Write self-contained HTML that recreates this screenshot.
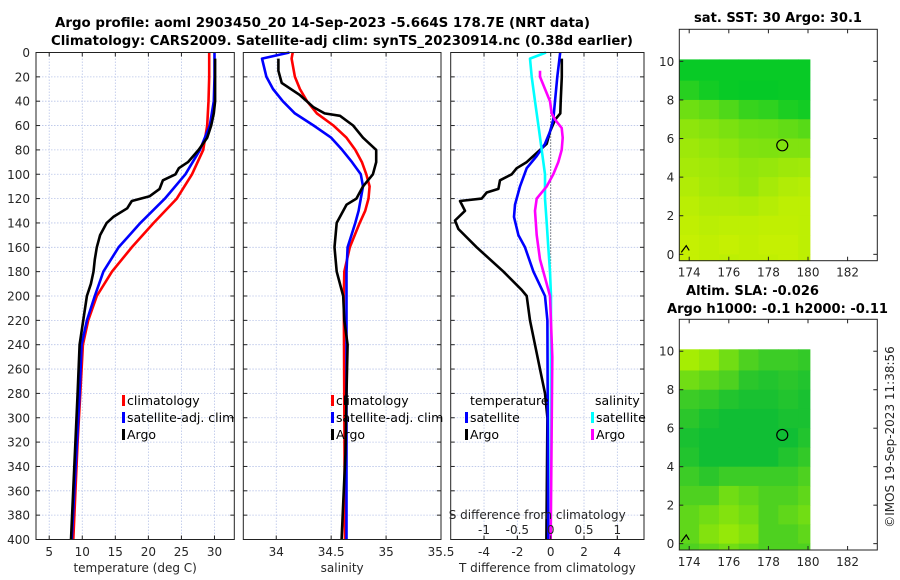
<!DOCTYPE html>
<html><head><meta charset="utf-8">
<style>
body{margin:0;background:#fff;}
svg{display:block;font-family:"DejaVu Sans","Liberation Sans",sans-serif;}
.tk{font-size:12px;fill:#262626;}
.tt{font-size:13px;font-weight:bold;fill:#000;}
.lg{font-size:12.5px;fill:#000;}
</style></head>
<body>
<svg id="chart" width="900" height="580" viewBox="0 0 900 580" xmlns="http://www.w3.org/2000/svg">
<text class="tt" x="55" y="27" textLength="535" lengthAdjust="spacingAndGlyphs">Argo profile: aoml 2903450_20 14-Sep-2023 -5.664S 178.7E (NRT data)</text>
<text class="tt" x="51" y="45" textLength="582" lengthAdjust="spacingAndGlyphs">Climatology: CARS2009. Satellite-adj clim: synTS_20230914.nc (0.38d earlier)</text>
<text class="tt" x="694" y="22" textLength="168" lengthAdjust="spacingAndGlyphs">sat. SST: 30 Argo: 30.1</text>
<text class="tt" x="686" y="295" textLength="133" lengthAdjust="spacingAndGlyphs">Altim. SLA: -0.026</text>
<text class="tt" x="667" y="313" textLength="221" lengthAdjust="spacingAndGlyphs">Argo h1000: -0.1 h2000: -0.11</text>
<text class="tk" transform="translate(894,437) rotate(-90)" text-anchor="middle">©IMOS 19-Sep-2023 11:38:56</text>
</svg>
<script>
// ---------- data ----------
const depthT = [0,20,40,60,80,100,120,140,160,180,200,220,240,280,320,400];
const tempClim = [29.2,29.2,29.1,28.9,28.3,26.6,24.3,20.8,17.5,14.5,12.2,10.9,10.1,9.7,9.3,8.65];
const tempSat  = [30.0,30.0,29.9,29.3,27.8,25.6,22.5,18.8,15.5,13.2,11.9,10.7,9.9,9.6,9.2,8.4];
const depthArgoT = [5,20,40,50,60,70,80,90,95,100,105,112,118,122,128,135,140,150,160,170,180,190,200,240,280,400];
const tempArgo = [30.1,30.1,30.1,29.9,29.5,28.9,27.6,26.0,24.6,24.1,22.2,21.7,20.2,17.5,16.8,14.7,13.7,12.7,12.2,11.9,11.7,11.3,10.7,9.6,9.3,8.3];

const depthS = [0,5,20,30,40,50,60,70,80,90,100,110,120,130,140,160,180,200,400];
const salClim = [34.15,34.14,34.17,34.215,34.28,34.37,34.52,34.64,34.72,34.78,34.82,34.85,34.84,34.81,34.76,34.67,34.62,34.615,34.625];
const salSat  = [34.12,33.87,33.91,33.97,34.06,34.17,34.34,34.50,34.60,34.69,34.77,34.79,34.77,34.75,34.72,34.65,34.64,34.64,34.64];
const depthArgoS = [5,15,25,35,45,50,52,60,70,80,90,100,110,120,125,140,160,180,200,220,240,280,330,400];
const salArgo = [34.02,34.02,34.05,34.215,34.34,34.44,34.58,34.70,34.79,34.91,34.91,34.88,34.79,34.73,34.64,34.55,34.53,34.55,34.61,34.62,34.65,34.64,34.63,34.595];

const depthDT = [5,20,40,50,55,65,75,80,85,90,95,100,105,112,115,120,122,130,138,145,160,180,195,200,220,240,260,280,300,400];
const dTArgo = [0.67,0.67,0.6,0.58,0.27,-0.04,-0.24,-0.64,-1.04,-1.44,-2.04,-2.34,-3.04,-3.14,-3.84,-4.14,-5.44,-5.14,-5.74,-5.54,-4.44,-2.84,-1.74,-1.44,-1.24,-0.94,-0.64,-0.34,-0.2,-0.26];
const depthDTs = [0,20,40,55,65,75,85,95,110,125,135,150,160,180,200,220,400];
const dTSat = [0.57,0.4,0.26,0.16,-0.04,-0.34,-0.84,-1.44,-1.84,-2.14,-2.2,-1.94,-1.54,-1.04,-0.34,-0.2,-0.15];
const depthDSs = [0,5,20,40,60,80,100,120,140,160,180,200,400];
const dSSat = [-0.07,-0.31,-0.285,-0.235,-0.185,-0.135,-0.085,-0.085,-0.06,-0.035,-0.01,0.005,0.0];
const depthDSa = [15,20,30,40,50,55,62,70,80,90,100,110,120,130,150,170,190,200,250,400];
const dSArgo = [-0.16,-0.16,-0.085,-0.01,0.015,0.065,0.165,0.18,0.165,0.115,0.04,-0.06,-0.21,-0.235,-0.21,-0.16,-0.06,-0.01,0.025,0.0];

const tTicks = [5,10,15,20,25,30];
const sTicks = [34,34.5,35,35.5];
const dTTicks = [-4,-2,0,2,4];
const dSTicks = [-1,-0.5,0,0.5,1];
const depthTicks = [0,20,40,60,80,100,120,140,160,180,200,220,240,260,280,300,320,340,360,380,400];
const lonTicks = [174,176,178,180,182];
const latTicks = [0,2,4,6,8,10];

// map grids: rows from lat 10.1 down to -0.33, cols 173.5..180.1 (1 deg)
const mapLatEdges = [10.1,9,8,7,6,5,4,3,2,1,0,-0.33];
const mapLonEdges = [173.5,174.5,175.5,176.5,177.5,178.5,179.5,180.1];
const sstGrid = [
 [29.05,29.05,29.05,29.05,29.05,29.05,29.05],
 [29.25,29.12,29.05,29.03,29.03,29.05,29.05],
 [29.7,29.62,29.5,29.35,29.3,29.18,29.12],
 [29.9,29.85,29.78,29.7,29.68,29.62,29.55],
 [30.0,29.95,29.9,29.82,29.8,29.82,29.82],
 [30.05,30.02,29.98,29.92,29.95,30.0,30.02],
 [30.12,30.05,30.02,29.95,30.05,30.12,30.15],
 [30.18,30.12,30.12,30.1,30.15,30.2,30.2],
 [30.22,30.18,30.2,30.2,30.22,30.22,30.2],
 [30.25,30.22,30.25,30.22,30.25,30.25,30.2],
 [30.25,30.22,30.2,30.22,30.22,30.25,30.2]
];
const slaGrid = [
 [0.03,0.02,0.0,-0.02,-0.03,-0.03,-0.035],
 [0.0,-0.01,-0.02,-0.04,-0.045,-0.04,-0.045],
 [-0.03,-0.035,-0.045,-0.05,-0.05,-0.045,-0.05],
 [-0.04,-0.05,-0.055,-0.055,-0.055,-0.05,-0.05],
 [-0.05,-0.06,-0.06,-0.06,-0.06,-0.055,-0.045],
 [-0.045,-0.06,-0.055,-0.06,-0.055,-0.045,-0.035],
 [-0.03,-0.04,-0.03,-0.03,-0.03,-0.03,-0.02],
 [-0.02,-0.02,0.0,-0.01,-0.02,-0.02,-0.01],
 [-0.01,0.0,0.01,0.0,-0.02,-0.01,0.0],
 [-0.01,0.01,0.02,0.01,-0.02,-0.02,-0.01],
 [-0.02,-0.01,0.0,-0.01,-0.02,-0.02,-0.02]
];
const argoLon = [178.7];
const argoLat = [5.65];

// ---------- drawing ----------
const NS='http://www.w3.org/2000/svg';
const svg=document.getElementById('chart');
function mk(tag,attrs,parent){const e=document.createElementNS(NS,tag);for(const k in attrs)e.setAttribute(k,attrs[k]);(parent||svg).appendChild(e);return e;}
const Y0=52.5, Y1=539.5;
const yD = d => Y0 + d*(Y1-Y0)/400;
function lin(d0,d1,r0,r1){return v=>r0+(v-d0)*(r1-r0)/(d1-d0);}

const panels=[
 {name:'temperature-panel',x0:36,x1:234.3,dom:[3,33],ticks:tTicks,label:'temperature (deg C)'},
 {name:'salinity-panel',x0:243.3,x1:441,dom:[33.7,35.5],ticks:sTicks,label:'salinity'},
 {name:'difference-panel',x0:450.7,x1:644,dom:[-6,5.6],ticks:dTTicks,label:'T difference from climatology'}
];
panels.forEach((p,i)=>{
  p.x=lin(p.dom[0],p.dom[1],p.x0,p.x1);
  const g=mk('g',{});
  
  
  p.g=g;
  // grid
  p.ticks.forEach(t=>{const X=p.x(t); if(X>p.x0+1&&X<p.x1-1){const l=mk('line',{x1:X,x2:X,y1:Y0,y2:Y1,stroke:'#b8c4e8','stroke-width':0.8,'stroke-dasharray':'1.5,1.5'},g);
    }});
  depthTicks.forEach(d=>{const Y=yD(d);const l=mk('line',{x1:p.x0,x2:p.x1,y1:Y,y2:Y,stroke:'#b8c4e8','stroke-width':0.8,'stroke-dasharray':'1.5,1.5'},g);
    
    mk('line',{x1:p.x0,x2:p.x0+4,y1:Y,y2:Y,stroke:'#222'},g);mk('line',{x1:p.x1-4,x2:p.x1,y1:Y,y2:Y,stroke:'#222'},g);
    if(i===0){const t=mk('text',{x:p.x0-6,y:Y+4.5,'text-anchor':'end',class:'tk'},g);t.textContent=d;
      }});
  p.ticks.forEach(t=>{const X=p.x(t);mk('line',{x1:X,x2:X,y1:Y1,y2:Y1-4,stroke:'#222'},g);mk('line',{x1:X,x2:X,y1:Y0,y2:Y0+4,stroke:'#222'},g);
    const tx=mk('text',{x:X,y:556,'text-anchor':'middle',class:'tk'},g);tx.textContent=t;
    });
  const xl=mk('text',{x:(p.x0+p.x1)/2,y:572,'text-anchor':'middle',class:'tk','font-size':'13px'},g);xl.textContent=p.label;
  
});

function curve(p,xs,ds,color,name,conv){
  const pts=xs.map((v,k)=>p.x(conv?conv(v):v).toFixed(1)+','+yD(ds[k]).toFixed(1)).join(' ');
  const pl=mk('polyline',{points:pts,fill:'none',stroke:color,'stroke-width':2.6,'stroke-linejoin':'round'},p.g);
  
}
// zero dotted line in diff panel
{const p=panels[2];const l=mk('line',{x1:p.x(0),x2:p.x(0),y1:Y0,y2:Y1,stroke:'#333','stroke-width':1,'stroke-dasharray':'1,2'},p.g);
 }
curve(panels[0],tempClim,depthT,'#ff0000','temp-climatology-line');
curve(panels[0],tempSat,depthT,'#0000ff','temp-satellite-line');
curve(panels[0],tempArgo,depthArgoT,'#000000','temp-argo-line');
curve(panels[1],salClim,depthS,'#ff0000','sal-climatology-line');
curve(panels[1],salSat,depthS,'#0000ff','sal-satellite-line');
curve(panels[1],salArgo,depthArgoS,'#000000','sal-argo-line');
curve(panels[2],dTArgo,depthDT,'#000000','dT-argo-line');
curve(panels[2],dTSat,depthDTs,'#0000ff','dT-satellite-line');
curve(panels[2],dSSat,depthDSs,'#00ffff','dS-satellite-line',v=>v*4);
curve(panels[2],dSArgo,depthDSa,'#ff00ff','dS-argo-line',v=>v*4);

// S secondary ticks
{const p=panels[2];
 const st=mk('text',{x:p.x0-2,y:519,class:'tk','font-size':'13px'},p.g);st.textContent='S difference from climatology';
 
 dSTicks.forEach(s=>{const X=p.x(s*4);const t=mk('text',{x:X,y:534,'text-anchor':'middle',class:'tk'},p.g);t.textContent=s;
  
  mk('line',{x1:X,x2:X,y1:Y1,y2:Y1-4,stroke:'#222'},p.g);});}

// frames
panels.forEach(p=>{const r=mk('rect',{x:p.x0,y:Y0,width:p.x1-p.x0,height:Y1-Y0,fill:'none',stroke:'#222','stroke-width':1},p.g);
  });

// legends
function legend(x,y,color,label,name){const r=mk('rect',{x:x,y:y-9,width:3,height:11,fill:color});
  
  const t=mk('text',{x:x+5,y:y+1,class:'lg'});t.textContent=label;
  }
legend(122,404,'#ff0000','climatology','legend-temp-climatology');
legend(122,421,'#0000ff','satellite-adj. clim','legend-temp-satellite');
legend(122,438,'#000','Argo','legend-temp-argo');
legend(331,404,'#ff0000','climatology','legend-sal-climatology');
legend(331,421,'#0000ff','satellite-adj. clim','legend-sal-satellite');
legend(331,438,'#000','Argo','legend-sal-argo');
{const t=mk('text',{x:470,y:405,class:'lg'});t.textContent='temperature';
 const t2=mk('text',{x:595,y:405,class:'lg'});t2.textContent='salinity';}
legend(465,421,'#0000ff','satellite','legend-dT-satellite');
legend(465,438,'#000','Argo','legend-dT-argo');
legend(591,421,'#00ffff','satellite','legend-dS-satellite');
legend(591,438,'#ff00ff','Argo','legend-dS-argo');

// maps
function mixC(a,b,f){f=Math.max(0,Math.min(1,f));return 'rgb('+a.map((v,k)=>Math.round(v+(b[k]-v)*f)).join(',')+')';}
function drawMap(name,top,bottom,grid,colorFn){
  const g=mk('g',{});
  const L=679.3,R=877.3;const X=lin(173.5,183.5,L,R);const Yl=lin(11.66,-0.33,top,bottom);
  grid.forEach((row,ri)=>row.forEach((v,ci)=>{
    const x0=X(mapLonEdges[ci]),x1=X(mapLonEdges[ci+1]),y0=Yl(mapLatEdges[ri]),y1=Yl(mapLatEdges[ri+1]);
    const c=mk('rect',{x:x0,y:y0,width:x1-x0+0.4,height:y1-y0+0.4,fill:colorFn(v)},g);
    }));
  const fr=mk('rect',{x:L,y:top,width:R-L,height:bottom-top,fill:'none',stroke:'#222'},g);
  
  lonTicks.forEach(l=>{const x=X(l);mk('line',{x1:x,x2:x,y1:bottom,y2:bottom-4,stroke:'#222'},g);mk('line',{x1:x,x2:x,y1:top,y2:top+4,stroke:'#222'},g);
    const t=mk('text',{x:x,y:bottom+16,'text-anchor':'middle',class:'tk'},g);t.textContent=l;
    });
  latTicks.forEach(l=>{const y=Yl(l);mk('line',{x1:L,x2:L+4,y1:y,y2:y,stroke:'#222'},g);mk('line',{x1:R-4,x2:R,y1:y,y2:y,stroke:'#222'},g);
    const t=mk('text',{x:L-5,y:y+4.5,'text-anchor':'end',class:'tk'},g);t.textContent=l;
    });
  argoLon.forEach((lo,k)=>{const c=mk('circle',{cx:X(lo),cy:Yl(argoLat[k]),r:5.5,fill:'none',stroke:'#000','stroke-width':1.2},g);
    });
  const m=mk('path',{d:`M${X(173.6)} ${Yl(0.1)} L${X(173.85)} ${Yl(0.45)} L${X(174)} ${Yl(0.2)}`,fill:'none',stroke:'#000','stroke-width':1.2},g);
  
}
drawMap('sst-map',29.3,260.7,sstGrid,v=>mixC([0,200,40],[205,242,0],(v-29.0)/1.3));
drawMap('sla-map',319.3,550,slaGrid,v=>mixC([16,190,52],[175,240,0],(v+0.055)/0.09));
</script>
</body></html>
